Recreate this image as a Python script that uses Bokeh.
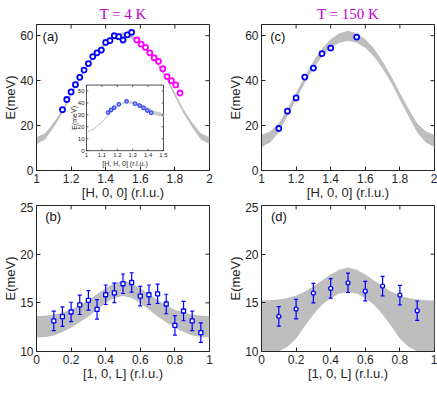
from bokeh.plotting import figure
from bokeh.models import Range1d, FixedTicker, Label, Whisker, ColumnDataSource, TeeHead, Title
from bokeh.layouts import column, row
from bokeh.embed import file_html
from bokeh.resources import INLINE
from bokeh.core.properties import value

# ---------------- data ----------------
# panel (a): T = 4 K, [H,0,0]
a_band_h = [1.0, 1.05, 1.1, 1.15, 1.2, 1.25, 1.3, 1.35, 1.4, 1.45, 1.5,
            1.55, 1.6, 1.65, 1.7, 1.75, 1.8, 1.85, 1.9, 1.95, 2.0]
a_band_lo = [11.8, 13.8, 19.2, 25.5, 33.0, 40.5, 46.8, 52.0, 56.0, 58.8, 59.8,
             58.8, 56.0, 52.0, 46.8, 40.5, 33.0, 25.5, 19.2, 13.8, 11.8]
a_band_hi = [14.8, 16.6, 21.4, 27.2, 34.6, 42.0, 48.2, 53.4, 57.4, 60.4, 61.6,
             60.4, 57.4, 53.4, 48.2, 42.0, 34.6, 27.2, 21.4, 16.6, 14.8]
a_blue_h = [1.15, 1.175, 1.2, 1.225, 1.25, 1.275, 1.3, 1.325, 1.35, 1.375,
            1.4, 1.425, 1.45, 1.475, 1.5, 1.525, 1.55]
a_blue_e = [27.1, 31.6, 35.0, 38.2, 41.5, 44.7, 47.6, 50.7, 52.4, 53.6,
            57.0, 57.8, 60.0, 59.6, 58.1, 60.4, 61.5]
a_mag_h = [1.58, 1.605, 1.63, 1.655, 1.68, 1.705, 1.73, 1.755, 1.78, 1.805, 1.83]
a_mag_e = [58.1, 56.3, 54.8, 52.4, 50.2, 48.6, 45.3, 41.8, 40.0, 38.1, 34.5]

# inset of (a): [H,H,0]
in_band_h = [1.0, 1.05, 1.1, 1.15, 1.2, 1.25, 1.3, 1.35, 1.4, 1.45, 1.5]
in_band_lo = [14.8, 17.9, 23.4, 30.4, 36.9, 39.7, 39.1, 36.2, 32.5, 29.5, 28.2]
in_band_hi = [15.8, 19.1, 24.6, 31.6, 38.1, 41.3, 41.5, 39.4, 36.1, 33.1, 31.4]
in_h = [1.14, 1.16, 1.18, 1.21, 1.26, 1.315, 1.345, 1.37, 1.395, 1.42]
in_e = [31.9, 34.2, 36.1, 38.9, 41.4, 39.4, 37.8, 35.8, 33.6, 31.7]
in_xticks = [1, 1.1, 1.2, 1.3, 1.4, 1.5]
in_xlabels = ["1", "1.1", "1.2", "1.3", "1.4", "1.5"]
in_yticks = [0, 10, 20, 30, 40, 50]
in_ylabels = ["0", "10", "20", "30", "40", "50"]
in_xlim = (1, 1.5)
in_ylim = (0, 55)

# panel (c): T = 150 K, [H,0,0]
c_band_h = [1.0, 1.05, 1.1, 1.15, 1.2, 1.25, 1.3, 1.35, 1.4, 1.45, 1.5,
            1.55, 1.6, 1.65, 1.7, 1.75, 1.8, 1.85, 1.9, 1.95, 2.0]
c_band_lo = [10.4, 12.5, 16.9, 24.1, 31.5, 39.0, 45.4, 50.7, 54.6, 56.9, 57.8,
             56.9, 54.6, 50.7, 45.4, 39.0, 31.5, 24.1, 16.9, 12.5, 10.4]
c_band_hi = [15.8, 17.5, 20.9, 27.5, 34.5, 42.0, 48.6, 54.3, 58.4, 61.1, 62.2,
             61.1, 58.4, 54.3, 48.6, 42.0, 34.5, 27.5, 20.9, 17.5, 15.8]
c_h = [1.1, 1.15, 1.2, 1.25, 1.3, 1.35, 1.4, 1.55]
c_e = [18.7, 26.4, 32.3, 41.6, 45.6, 52.0, 54.5, 59.4]

# panel (b): T = 4 K, [1,0,L]
bd_band_l = [0.0, 0.05, 0.1, 0.15, 0.2, 0.25, 0.3, 0.35, 0.4, 0.45, 0.5,
             0.55, 0.6, 0.65, 0.7, 0.75, 0.8, 0.85, 0.9, 0.95, 1.0]
b_band_lo = [11.43, 11.5, 11.65, 12.0, 12.45, 13.0, 13.6, 14.3, 15.0, 15.5, 15.7,
             15.5, 15.0, 14.3, 13.6, 13.0, 12.45, 12.0, 11.65, 11.5, 11.43]
b_band_hi = [13.65, 13.68, 13.8, 14.0, 14.3, 14.75, 15.3, 15.9, 16.5, 17.0, 17.3,
             17.0, 16.5, 15.9, 15.3, 14.75, 14.3, 14.0, 13.8, 13.68, 13.65]
b_l = [0.1, 0.15, 0.2, 0.25, 0.3, 0.35, 0.4, 0.45, 0.5, 0.55,
       0.6, 0.65, 0.7, 0.75, 0.8, 0.85, 0.9, 0.95]
b_e = [13.14, 13.58, 14.06, 14.8, 15.25, 14.33, 15.83, 16.03, 16.96, 17.09,
       15.69, 15.83, 15.93, 14.88, 12.69, 14.16, 13.14, 11.94]
b_err = [1.0, 1.0, 1.0, 1.0, 1.0, 1.0, 1.0, 1.0, 1.0, 1.0,
         1.0, 1.0, 1.0, 1.0, 1.0, 1.0, 1.0, 1.0]

# panel (d): T = 150 K, [1,0,L]
d_band_lo = [9.0, 9.3, 10.0, 10.5, 11.3, 12.6, 13.8, 14.8, 15.5, 15.95, 16.1,
             15.95, 15.5, 14.8, 13.8, 12.6, 11.3, 10.5, 10.0, 9.3, 9.0]
d_band_hi = [15.25, 15.27, 15.35, 15.5, 15.75, 16.15, 16.7, 17.3, 17.9, 18.4, 18.63,
             18.4, 17.9, 17.3, 16.7, 16.15, 15.75, 15.5, 15.35, 15.27, 15.25]
d_l = [0.1, 0.2, 0.3, 0.4, 0.5, 0.6, 0.7, 0.8, 0.9]
d_e = [13.61, 14.36, 16.0, 16.48, 17.06, 16.2, 16.72, 15.8, 14.19]
d_err = [1.0, 1.0, 1.0, 1.0, 1.0, 1.0, 1.0, 1.0, 1.0]

# axes ticks
h_ticks = [1, 1.2, 1.4, 1.6, 1.8, 2]
h_labels = ["1", "1.2", "1.4", "1.6", "1.8", "2"]
eh_ticks = [0, 20, 40, 60]
eh_labels = ["0", "20", "40", "60"]
l_ticks = [0, 0.2, 0.4, 0.6, 0.8, 1]
l_labels = ["0", "0.2", "0.4", "0.6", "0.8", "1"]
el_ticks = [10, 15, 20, 25]
el_labels = ["10", "15", "20", "25"]

# ---------------- style ----------------
AX = "#262626"
FONT = "Liberation Sans"
BAND = "#BEBEBE"
BLUE = "#0000FF"
MAG = "#FF00FF"
TITLE_C = "#C000D0"
FW, FH = 173, 146


def base_fig(xlim, ylim, xt, xl, yt, yl, xlabel, bl, br, bt, ttl=None):
    p = figure(frame_width=FW, frame_height=FH, x_range=Range1d(*xlim), y_range=Range1d(*ylim),
               output_backend="svg", toolbar_location=None,
               min_border_left=bl, min_border_right=br, min_border_top=bt, min_border_bottom=0)
    if ttl:
        p.title = Title(text=ttl, align="center", text_font="Liberation Serif",
                        text_font_style="normal", text_font_size="15px",
                        text_color=TITLE_C, standoff=5)
    p.grid.visible = False
    p.outline_line_color = AX
    p.background_fill_color = "white"
    p.border_fill_color = "white"
    for ax, t, l in ((p.xaxis[0], xt, xl), (p.yaxis[0], yt, yl)):
        ax.ticker = FixedTicker(ticks=t)
        ax.major_label_overrides = dict(zip(t, l))
        ax.minor_tick_line_color = None
        ax.major_tick_in = 4
        ax.major_tick_out = 0
        ax.axis_line_color = AX
        ax.major_tick_line_color = AX
        ax.major_label_text_color = AX
        ax.major_label_text_font = FONT
        ax.major_label_text_font_size = "12px"
        ax.major_label_standoff = 3
        ax.axis_label_text_font = FONT
        ax.axis_label_text_font_size = "13px"
        ax.axis_label_text_font_style = "normal"
        ax.axis_label_text_color = AX
        ax.axis_label_standoff = -1
    p.xaxis.axis_label = xlabel
    p.yaxis.axis_label = "E(meV)"
    # box ticks on top and right (inward, half of the dash clipped by the frame)
    p.scatter(x=xt, y=[ylim[1]] * len(xt), marker="dash", angle=1.5708, size=8,
              line_color=AX, line_width=1)
    p.scatter(x=[xlim[1]] * len(yt), y=yt, marker="dash", size=8,
              line_color=AX, line_width=1)
    return p


def letter(p, x, y, txt):
    p.add_layout(Label(x=x, y=y, text=txt, text_font=FONT, text_font_size="13px",
                       text_color="#111111", text_baseline="top", text_align="left"))


def errorbars(p, src):
    head = dict(size=4, line_color=BLUE, line_width=1.2)
    p.add_layout(Whisker(source=src, base="l", upper="up", lower="lo", line_color=BLUE,
                         line_width=1.2, level="annotation",
                         upper_head=TeeHead(**head), lower_head=TeeHead(**head)))


# ---------------- panel (a) ----------------
pa = base_fig((1, 2), (0, 65), h_ticks, h_labels, eh_ticks, eh_labels,
              "[H, 0, 0] (r.l.u.)", 28, 16, 24, "T = 4 K")
pa.varea(x=a_band_h, y1=a_band_lo, y2=a_band_hi, fill_color=BAND)
pa.scatter(a_blue_h, a_blue_e, marker="circle", size=5, line_width=1.8,
           line_color=BLUE, fill_color="white")
pa.scatter(a_mag_h, a_mag_e, marker="circle", size=5, line_width=1.8,
           line_color=MAG, fill_color="white")
letter(pa, 1.035, 62.8, "(a)")

# inset inside (a) via extra ranges
fx0, fx1 = (86 - 36) / 173, (163 - 36) / 173
fy0, fy1 = 0.136, 0.585
sx = (in_xlim[1] - in_xlim[0]) / (fx1 - fx0)
sy = (in_ylim[1] - in_ylim[0]) / (fy1 - fy0)
pa.extra_x_ranges = {"ix": Range1d(in_xlim[0] - fx0 * sx, in_xlim[0] - fx0 * sx + sx)}
pa.extra_y_ranges = {"iy": Range1d(in_ylim[0] - fy0 * sy, in_ylim[0] - fy0 * sy + sy)}
kw = dict(x_range_name="ix", y_range_name="iy")
pa.quad(left=[in_xlim[0]], right=[in_xlim[1]], bottom=[in_ylim[0]], top=[in_ylim[1]],
        fill_color="white", line_color=AX, line_width=0.8, **kw)
pa.varea(x=in_band_h, y1=in_band_lo, y2=in_band_hi, fill_color="#CDCDCD", **kw)
pa.scatter(in_h, in_e, marker="circle", size=3.5, line_width=1.2, line_color="#3344FF",
           fill_color="#AAB0FF", **kw)
tlx = 0.025 * (in_xlim[1] - in_xlim[0])
tly = 0.03 * (in_ylim[1] - in_ylim[0])
pa.segment(x0=in_xticks, x1=in_xticks, y0=[in_ylim[0]] * 6, y1=[in_ylim[0] + tly] * 6,
           line_color=AX, line_width=0.7, **kw)
pa.segment(x0=in_xticks, x1=in_xticks, y0=[in_ylim[1]] * 6, y1=[in_ylim[1] - tly] * 6,
           line_color=AX, line_width=0.7, **kw)
pa.segment(x0=[in_xlim[0]] * 6, x1=[in_xlim[0] + tlx] * 6, y0=in_yticks, y1=in_yticks,
           line_color=AX, line_width=0.7, **kw)
pa.segment(x0=[in_xlim[1]] * 6, x1=[in_xlim[1] - tlx] * 6, y0=in_yticks, y1=in_yticks,
           line_color=AX, line_width=0.7, **kw)
pa.text(x=in_xticks, y=[in_ylim[0]] * 6, text=in_xlabels, text_font=value(FONT),
        text_font_size="6px", text_color=AX, text_align="center", text_baseline="top",
        y_offset=2, **kw)
pa.text(x=[in_xlim[0]] * 6, y=in_yticks, text=in_ylabels, text_font=value(FONT),
        text_font_size="6px", text_color=AX, text_align="right", text_baseline="middle",
        x_offset=-2, **kw)
pa.text(x=[(in_xlim[0] + in_xlim[1]) / 2], y=[in_ylim[0]], text=["[H, H, 0] (r.l.u.)"],
        text_font=value(FONT), text_font_size="7px", text_color=AX, text_align="center",
        text_baseline="top", y_offset=9, **kw)
pa.text(x=[in_xlim[0]], y=[(in_ylim[0] + in_ylim[1]) / 2], text=["E(meV)"],
        text_font=value(FONT), text_font_size="7px", text_color=AX, text_align="center",
        text_baseline="bottom", x_offset=-9, angle=1.5708, **kw)

# ---------------- panel (c) ----------------
pc = base_fig((1, 2), (0, 65), h_ticks, h_labels, eh_ticks, eh_labels,
              "[H, 0, 0] (r.l.u.)", 28, 3, 24, "T = 150 K")
pc.varea(x=c_band_h, y1=c_band_lo, y2=c_band_hi, fill_color=BAND)
pc.scatter(c_h, c_e, marker="circle", size=5, line_width=1.8,
           line_color=BLUE, fill_color="white")
letter(pc, 1.05, 62.8, "(c)")

# ---------------- panel (b) ----------------
pb = base_fig((0, 1), (10, 25), l_ticks, l_labels, el_ticks, el_labels,
              "[1, 0, L] (r.l.u.)", 28, 16, 3)
pb.varea(x=bd_band_l, y1=b_band_lo, y2=b_band_hi, fill_color=BAND)
b_src = ColumnDataSource(data=dict(l=b_l, e=b_e,
                                   up=[e + s for e, s in zip(b_e, b_err)],
                                   lo=[e - s for e, s in zip(b_e, b_err)]))
errorbars(pb, b_src)
pb.scatter("l", "e", source=b_src, marker="square", size=4, line_width=1.3,
           line_color=BLUE, fill_color="white", level="overlay")
letter(pb, 0.05, 24.6, "(b)")

# ---------------- panel (d) ----------------
pd = base_fig((0, 1), (10, 25), l_ticks, l_labels, el_ticks, el_labels,
              "[1, 0, L] (r.l.u.)", 28, 3, 3)
pd.varea(x=bd_band_l, y1=d_band_lo, y2=d_band_hi, fill_color=BAND)
d_src = ColumnDataSource(data=dict(l=d_l, e=d_e,
                                   up=[e + s for e, s in zip(d_e, d_err)],
                                   lo=[e - s for e, s in zip(d_e, d_err)]))
errorbars(pd, d_src)
pd.scatter("l", "e", source=d_src, marker="circle", size=4, line_width=1.3,
           line_color=BLUE, fill_color="white", level="overlay")
letter(pd, 0.055, 24.6, "(d)")

layout = column(row(pa, pc), row(pb, pd))
open("out.html", "w").write(file_html(layout, INLINE))
